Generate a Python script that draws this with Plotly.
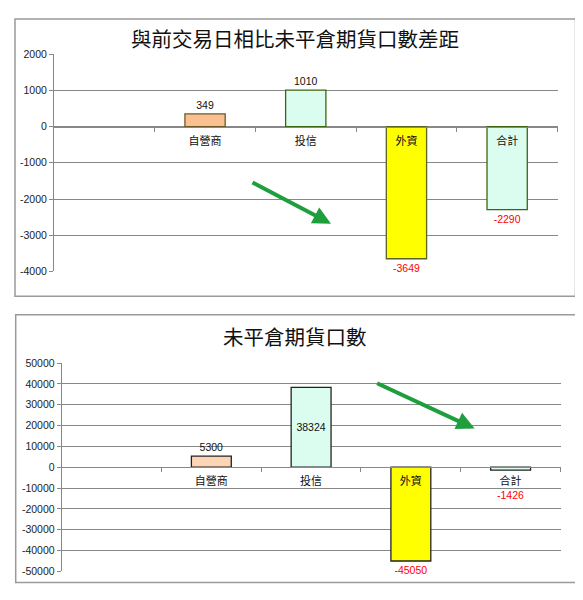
import plotly.graph_objects as go

# categories shared by both charts
categories = ["自營商", "投信", "外資", "合計"]

# top chart: change vs previous trading day
diff_values = [349, 1010, -3649, -2290]
diff_ticks = [2000, 1000, 0, -1000, -2000, -3000, -4000]

# bottom chart: open interest
oi_values = [5300, 38324, -45050, -1426]
oi_ticks = [50000, 40000, 30000, 20000, 10000, 0, -10000, -20000, -30000, -40000, -50000]

title_top = "與前交易日相比未平倉期貨口數差距"
title_bottom = "未平倉期貨口數"

W, H = 583, 600
OFF = 8  # page body margin
NUM_FONT = "Liberation Sans"
CJK_FONT = "Noto Sans CJK TC"


def px(x, y):
    # reference pixel -> paper coords
    return (x - OFF) / W, 1 - (y - OFF) / H


# plot areas in reference pixels (left, right, top, bottom)
top_box = (54, 557.5, 49, 270.7)
bot_box = (61.7, 560.5, 364.3, 576.7)


def px_dom(box):
    l, r, t, b = box
    x0, y0 = px(l, b)
    x1, y1 = px(r, t)
    return [x0, x1], [y0, y1]


top_xd, top_yd = px_dom(top_box)
bot_xd, bot_yd = px_dom(bot_box)

top_range = [-4000, 2000]
bot_range = [-50000, 50000]


def zero_pos(yd, rng):
    return yd[0] + (yd[1] - yd[0]) * (0 - rng[0]) / (rng[1] - rng[0])


fig = go.Figure()

fig.add_trace(go.Bar(
    x=categories, y=diff_values, xaxis="x", yaxis="y",
    width=0.4,
    marker=dict(color=["#FAC090", "#DBFDF0", "#FFFF00", "#DBFDF0"],
                line=dict(color=["#6B5B2A", "#3F6410", "#5A6320", "#3F6410"], width=1.3)),
    text=[str(v) for v in diff_values],
    textposition="outside",
    textfont=dict(family=NUM_FONT, size=10.5,
                  color=["#111" if v > 0 else "#FF0000" for v in diff_values]),
    cliponaxis=False,
    showlegend=False,
))

bot_text = [str(v) for v in oi_values]
bot_text[3] = ""
fig.add_trace(go.Bar(
    x=categories, y=oi_values, xaxis="x2", yaxis="y2",
    width=0.4,
    marker=dict(color=["#FCD5B4", "#DBFDF0", "#FFFF00", "#DBFDF0"],
                line=dict(color="#222", width=1.3)),
    text=bot_text,
    textposition=["outside", "inside", "outside", "outside"],
    insidetextanchor="middle",
    textfont=dict(family=NUM_FONT, size=10.5,
                  color=["#111" if v > 0 else "#FF0000" for v in oi_values]),
    cliponaxis=False,
    showlegend=False,
))

grid = "#888888"


def xaxis(dom, pos):
    return dict(domain=dom, anchor="free", position=pos,
                type="category", range=[-1.5, 3.5],
                showline=True, linecolor=grid, linewidth=1,
                ticks="outside", tickson="boundaries", ticklen=4, tickcolor=grid,
                ticklabelstandoff=4,
                showgrid=False, zeroline=False,
                tickfont=dict(family=CJK_FONT, size=11, color="#111"))


def yaxis(dom, rng, ticks, xname):
    return dict(domain=dom, anchor=xname, range=rng,
                tickvals=ticks, ticktext=[str(t) for t in ticks],
                showline=True, linecolor=grid, linewidth=1,
                ticks="outside", ticklen=4, tickcolor=grid,
                showgrid=True, gridcolor=grid, gridwidth=1,
                zeroline=False,
                tickfont=dict(family=NUM_FONT, size=10.5, color="#222"))


fig.update_layout(
    width=W, height=H,
    margin=dict(l=0, r=0, t=0, b=0),
    paper_bgcolor="white", plot_bgcolor="white",
    xaxis=xaxis(top_xd, zero_pos(top_yd, top_range)),
    yaxis=yaxis(top_yd, top_range, diff_ticks, "x"),
    xaxis2=xaxis(bot_xd, zero_pos(bot_yd, bot_range)),
    yaxis2=yaxis(bot_yd, bot_range, oi_ticks, "x2"),
)

# chart frames
for (l, t, r, b) in [(15, 13, 575.5, 296), (15.7, 315, 576, 588)]:
    x0, y0 = px(l, b)
    x1, y1 = px(r, t)
    fig.add_shape(type="rect", xref="paper", yref="paper",
                  x0=x0, x1=x1, y0=y0, y1=y1,
                  line=dict(color="#9A9A9A", width=1.5), layer="below")

# titles
for text, (cx, cy) in [(title_top, (295, 33)), (title_bottom, (295, 337))]:
    tx, ty = px(cx, cy)
    fig.add_annotation(text=text, xref="paper", yref="paper",
                       x=tx, y=ty, xanchor="center", yanchor="middle",
                       showarrow=False,
                       font=dict(family=CJK_FONT, size=20.5, color="#111"))

# label for the small negative bar sits below the category label
fig.add_annotation(text=str(oi_values[3]), xref="x2", yref="y2",
                   x=categories[3], y=oi_values[3], yshift=-25, showarrow=False,
                   font=dict(family=NUM_FONT, size=10.5, color="#FF0000"))

# green arrows
arrow_green = "#1E9E3C"
for (hx, hy, axp, ayp) in [(331, 222, -80, -42), (474.6, 431, -99, -46)]:
    x, y = px(hx, hy)
    fig.add_annotation(text="", xref="paper", yref="paper",
                       x=x, y=y, ax=axp, ay=ayp,
                       showarrow=True, arrowhead=2, arrowsize=0.9, arrowwidth=4,
                       arrowcolor=arrow_green)

fig.write_html("out.html")
